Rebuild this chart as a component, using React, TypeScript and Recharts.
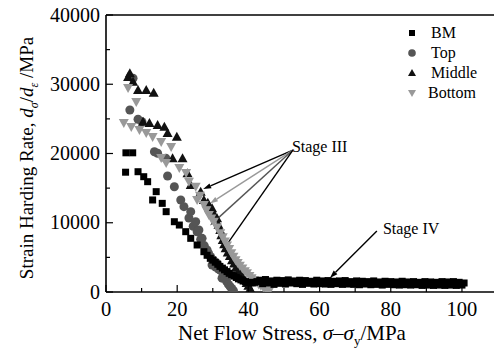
import React from 'react';
import { ScatterChart, Scatter, XAxis, YAxis, ReferenceLine, ReferenceDot, Legend } from 'recharts';

// values (x: net flow stress, MPa; y: strain hardening rate, MPa)
const bmPoints = [
  { x: 5.5, y: 17300 }, { x: 5.6, y: 20100 }, { x: 7.5, y: 20100 }, { x: 9.0, y: 17370 },
  { x: 10.6, y: 16650 }, { x: 11.7, y: 15930 }, { x: 13.1, y: 13290 }, { x: 14.1, y: 14490 },
  { x: 15.8, y: 12800 }, { x: 16.9, y: 11600 }, { x: 19.2, y: 10150 }, { x: 20.6, y: 9670 },
  { x: 22.4, y: 8710 }, { x: 23.8, y: 7750 }, { x: 25.6, y: 6790 }, { x: 27.5, y: 5820 },
  { x: 28.4, y: 5300 }, { x: 29.3, y: 4860 }, { x: 30.0, y: 4600 }, { x: 30.7, y: 4300 },
  { x: 31.4, y: 4000 }, { x: 32.0, y: 3700 }, { x: 32.7, y: 3450 }, { x: 33.3, y: 3200 },
  { x: 34.0, y: 2950 }, { x: 34.6, y: 2700 }, { x: 35.3, y: 2500 }, { x: 35.9, y: 2300 },
  { x: 36.6, y: 2100 }, { x: 37.2, y: 1900 }, { x: 37.9, y: 1750 }, { x: 38.5, y: 1600 },
  { x: 39.2, y: 1500 }, { x: 39.8, y: 1400 }, { x: 40.5, y: 1350 }, { x: 41.1, y: 1300 },
  { x: 41.8, y: 1400 }, { x: 42.4, y: 1500 },
  { x: 43.2, y: 1700 }, { x: 44.0, y: 1200 }, { x: 44.8, y: 1800 }, { x: 45.6, y: 1300 },
  { x: 46.4, y: 1600 }, { x: 47.2, y: 1100 }, { x: 48.0, y: 1700 }, { x: 48.8, y: 1250 },
  { x: 49.6, y: 1650 }, { x: 50.4, y: 1150 }, { x: 51.2, y: 1750 }, { x: 52.0, y: 1300 },
  { x: 52.8, y: 1600 }, { x: 53.6, y: 1200 }, { x: 54.4, y: 1700 }, { x: 55.2, y: 1100 },
  { x: 56.0, y: 1650 }, { x: 56.8, y: 1250 }, { x: 57.6, y: 1550 }, { x: 58.4, y: 1150 },
  { x: 59.2, y: 1700 }, { x: 60.0, y: 1200 }, { x: 60.8, y: 1600 }, { x: 61.6, y: 1150 },
  { x: 62.4, y: 1650 }, { x: 63.2, y: 1100 }, { x: 64.0, y: 1550 }, { x: 64.8, y: 1200 },
  { x: 65.6, y: 1600 }, { x: 66.4, y: 1100 }, { x: 67.2, y: 1650 }, { x: 68.0, y: 1150 },
  { x: 68.8, y: 1500 }, { x: 69.6, y: 1100 }, { x: 70.4, y: 1600 }, { x: 71.2, y: 1050 },
  { x: 72.0, y: 1550 }, { x: 72.8, y: 1150 }, { x: 73.6, y: 1500 }, { x: 74.4, y: 1050 },
  { x: 75.2, y: 1600 }, { x: 76.0, y: 1100 }, { x: 76.8, y: 1450 }, { x: 77.6, y: 1000 },
  { x: 78.4, y: 1550 }, { x: 79.2, y: 1100 }, { x: 80.0, y: 1500 }, { x: 80.8, y: 1050 },
  { x: 81.6, y: 1450 }, { x: 82.4, y: 1000 }, { x: 83.2, y: 1550 }, { x: 84.0, y: 1050 },
  { x: 84.8, y: 1450 }, { x: 85.6, y: 1000 }, { x: 86.4, y: 1500 }, { x: 87.2, y: 1050 },
  { x: 88.0, y: 1400 }, { x: 88.8, y: 950 }, { x: 89.6, y: 1500 }, { x: 90.4, y: 1000 },
  { x: 91.2, y: 1450 }, { x: 92.0, y: 950 }, { x: 92.8, y: 1400 }, { x: 93.6, y: 1000 },
  { x: 94.4, y: 1500 }, { x: 95.2, y: 950 }, { x: 96.0, y: 1450 }, { x: 96.8, y: 1000 },
  { x: 97.6, y: 1500 }, { x: 98.4, y: 950 }, { x: 99.2, y: 1400 }, { x: 100.0, y: 1000 },
  { x: 100.6, y: 1300 },
];

const topPoints = [
  { x: 6.7, y: 26280 }, { x: 7.6, y: 30860 }, { x: 9.0, y: 24940 }, { x: 10.1, y: 24600 },
  { x: 13.6, y: 20260 }, { x: 14.5, y: 20030 }, { x: 16.8, y: 19310 }, { x: 17.3, y: 16750 },
  { x: 19.2, y: 15200 }, { x: 21.0, y: 13290 }, { x: 21.9, y: 12320 }, { x: 23.3, y: 10690 },
  { x: 23.8, y: 11600 }, { x: 24.5, y: 9500 }, { x: 25.2, y: 10150 }, { x: 25.6, y: 8700 },
  { x: 26.1, y: 8950 }, { x: 26.6, y: 7600 }, { x: 27.0, y: 7750 }, { x: 27.6, y: 6700 },
  { x: 28.4, y: 6070 }, { x: 28.8, y: 5600 }, { x: 29.4, y: 5100 }, { x: 29.8, y: 3900 },
  { x: 30.2, y: 4600 }, { x: 30.8, y: 3600 }, { x: 31.2, y: 4140 }, { x: 31.6, y: 3300 },
  { x: 32.1, y: 3180 }, { x: 32.6, y: 2000 }, { x: 32.9, y: 2500 }, { x: 33.5, y: 1980 },
  { x: 33.9, y: 1500 }, { x: 34.4, y: 1100 }, { x: 34.9, y: 770 }, { x: 35.3, y: 500 },
  { x: 35.8, y: 200 },
];

const middlePoints = [
  { x: 6.2, y: 31050 }, { x: 6.7, y: 31600 }, { x: 7.6, y: 30370 }, { x: 9.0, y: 29170 },
  { x: 11.3, y: 29170 }, { x: 13.4, y: 28780 }, { x: 10.4, y: 24600 }, { x: 12.2, y: 24400 },
  { x: 14.5, y: 24110 }, { x: 16.4, y: 23870 }, { x: 17.3, y: 22960 }, { x: 19.9, y: 22430 },
  { x: 18.7, y: 19310 }, { x: 21.5, y: 19310 }, { x: 22.9, y: 17140 }, { x: 23.8, y: 15450 },
  { x: 26.6, y: 14480 }, { x: 27.5, y: 13290 }, { x: 28.6, y: 12900 }, { x: 29.8, y: 12080 },
  { x: 30.3, y: 11300 }, { x: 31.2, y: 10640 }, { x: 31.6, y: 9700 }, { x: 32.1, y: 8950 },
  { x: 32.4, y: 8200 }, { x: 32.8, y: 7500 }, { x: 33.2, y: 6900 }, { x: 33.6, y: 6300 },
  { x: 34.2, y: 5700 }, { x: 34.8, y: 5200 }, { x: 35.4, y: 4600 }, { x: 36.0, y: 4100 },
  { x: 36.6, y: 3600 }, { x: 37.2, y: 3100 }, { x: 37.8, y: 2600 }, { x: 38.4, y: 2200 },
  { x: 39.0, y: 1700 }, { x: 39.5, y: 1300 }, { x: 40.0, y: 900 }, { x: 40.5, y: 500 },
];

const bottomPoints = [
  { x: 6.2, y: 29450 }, { x: 8.5, y: 27440 }, { x: 5.0, y: 24400 }, { x: 7.1, y: 23830 },
  { x: 9.4, y: 23390 }, { x: 11.3, y: 22960 }, { x: 13.1, y: 22380 }, { x: 15.5, y: 21660 },
  { x: 18.3, y: 20940 }, { x: 15.5, y: 19350 }, { x: 16.9, y: 18630 }, { x: 20.6, y: 17900 },
  { x: 22.5, y: 17180 }, { x: 23.3, y: 15930 }, { x: 25.2, y: 15200 }, { x: 25.6, y: 13290 },
  { x: 26.4, y: 13900 }, { x: 27.5, y: 12560 }, { x: 28.2, y: 11800 }, { x: 28.9, y: 11120 },
  { x: 29.6, y: 10600 }, { x: 30.3, y: 10150 }, { x: 31.2, y: 9300 }, { x: 32.1, y: 8470 },
  { x: 32.8, y: 7900 }, { x: 33.4, y: 7300 }, { x: 34.0, y: 6700 }, { x: 34.6, y: 6200 },
  { x: 35.2, y: 5600 }, { x: 35.8, y: 5100 }, { x: 36.4, y: 4600 }, { x: 37.0, y: 4200 },
  { x: 37.6, y: 3800 }, { x: 38.3, y: 3400 }, { x: 39.0, y: 3000 }, { x: 39.6, y: 2700 },
  { x: 40.3, y: 2300 }, { x: 40.9, y: 2000 }, { x: 41.6, y: 1700 }, { x: 42.2, y: 1400 },
  { x: 42.9, y: 1100 }, { x: 43.5, y: 900 }, { x: 44.2, y: 650 }, { x: 44.8, y: 450 },
  { x: 45.3, y: 250 }, { x: 45.8, y: 100 },
];

const xTicks = [0, 10, 20, 30, 40, 50, 60, 70, 80, 90, 100];
const yTicks = [0, 5000, 10000, 15000, 20000, 25000, 30000, 35000, 40000];
const xLabeled = [0, 20, 40, 60, 80, 100];
const yLabeled = [0, 10000, 20000, 30000, 40000];

const stage3From = { x: 52.5, y: 20500 };
const stage3Targets = [
  { x: 27.3, y: 14870, color: '#000' },
  { x: 29.2, y: 12780, color: '#999' },
  { x: 29.2, y: 9600, color: '#555' },
  { x: 32.7, y: 5920, color: '#000' },
];
const stage4From = { x: 76.1, y: 8810 };
const stage4To = { x: 62.9, y: 2020 };

const FONT = '"Liberation Serif", "Times New Roman", serif';

const Square = ({ cx, cy }: any) => <rect x={cx - 3.5} y={cy - 3.5} width={7} height={7} fill="#000" />;
const Dot = ({ cx, cy }: any) => <circle cx={cx} cy={cy} r={4.5} fill="#555" />;
const Tri = ({ cx, cy }: any) => (
  <polygon points={`${cx},${cy - 5} ${cx - 5},${cy + 4} ${cx + 5},${cy + 4}`} fill="#111" />
);
const InvTri = ({ cx, cy }: any) => (
  <polygon points={`${cx},${cy + 5} ${cx - 5},${cy - 4} ${cx + 5},${cy - 4}`} fill="#999" />
);

const XTick = ({ x, y, payload }: any) => {
  const major = xLabeled.includes(payload.value);
  return (
    <g>
      <line x1={x} x2={x} y1={y} y2={y - (major ? 7 : 4)} stroke="#000" strokeWidth={1.2} />
      {major && (
        <text x={x} y={y + 24} textAnchor="middle" fontFamily={FONT} fontSize={20.5} fill="#000">
          {payload.value}
        </text>
      )}
    </g>
  );
};

const YTick = ({ x, y, payload }: any) => {
  const major = yLabeled.includes(payload.value);
  return (
    <g>
      <line x1={x} x2={x + (major ? 7 : 4)} y1={y} y2={y} stroke="#000" strokeWidth={1.2} />
      {major && (
        <text x={x - 6} y={y + 6.5} textAnchor="end" fontFamily={FONT} fontSize={20} fill="#000">
          {payload.value}
        </text>
      )}
    </g>
  );
};

const XLabel = () => (
  <text x={292} y={340} textAnchor="middle" fontFamily={FONT} fontSize={21} fill="#000">
    {'Net Flow Stress, '}
    <tspan fontStyle="italic">σ</tspan>
    {'–'}
    <tspan fontStyle="italic">σ</tspan>
    <tspan fontSize={13} dy={5}>y</tspan>
    <tspan dy={-5}>/MPa</tspan>
  </text>
);

const YLabel = () => (
  <text
    x={33}
    y={158}
    transform="rotate(-90 33 158)"
    textAnchor="middle"
    fontFamily={FONT}
    fontSize={19}
    fill="#000"
  >
    {'Strain Harding Rate, '}
    <tspan fontStyle="italic">d</tspan>
    <tspan fontStyle="italic" fontSize={12} dy={5}>σ</tspan>
    <tspan dy={-5}>/</tspan>
    <tspan fontStyle="italic">d</tspan>
    <tspan fontStyle="italic" fontSize={12} dy={5}>ε</tspan>
    <tspan dy={-5}> /MPa</tspan>
  </text>
);

const Arrow = (props: any) => {
  const { x1, y1, x2, y2, stroke } = props;
  const a = Math.atan2(y2 - y1, x2 - x1);
  const L = 8;
  const W = 2.6;
  const bx = x2 - L * Math.cos(a);
  const by = y2 - L * Math.sin(a);
  const pts = `${x2},${y2} ${bx - W * Math.sin(a)},${by + W * Math.cos(a)} ${bx + W * Math.sin(a)},${by - W * Math.cos(a)}`;
  return (
    <g>
      <line x1={x1} y1={y1} x2={bx} y2={by} stroke={stroke} strokeWidth={1.4} />
      <polygon points={pts} fill={stroke} />
    </g>
  );
};

const legendItems = [
  { name: 'BM', icon: <rect x={5} y={7} width={6} height={6} fill="#000" />, shift: 0 },
  { name: 'Top', icon: <circle cx={8} cy={10} r={3.8} fill="#555" />, shift: 0 },
  { name: 'Middle', icon: <polygon points="8,6 4,13 12,13" fill="#111" />, shift: 0 },
  { name: 'Bottom', icon: <polygon points="8,14 4,7 12,7" fill="#999" />, shift: -3 },
];

const LegendBox = () => (
  <div style={{ fontFamily: FONT, fontSize: 16, color: '#000' }}>
    {legendItems.map((it) => (
      <div key={it.name} style={{ display: 'flex', alignItems: 'center', height: 20 }}>
        <svg width={27 + it.shift} height={20} style={{ overflow: 'visible' }}>
          {it.icon}
        </svg>
        <span style={{ lineHeight: '20px' }}>{it.name}</span>
      </div>
    ))}
  </div>
);

const App = () => (
  <div style={{ position: 'absolute', left: 0, top: 0, width: 494, height: 349, background: '#fff' }}>
    <ScatterChart width={494} height={349} margin={{ top: 15, right: 0, bottom: 0, left: 0 }}>
      <XAxis
        type="number"
        dataKey="x"
        domain={[0, 109]}
        ticks={xTicks}
        interval={0}
        allowDataOverflow
        height={57}
        tickSize={0}
        tickMargin={0}
        tickLine={false}
        tick={<XTick />}
        axisLine={{ stroke: '#000', strokeWidth: 1.6 }}
        label={{ content: () => <XLabel /> }}
      />
      <YAxis
        type="number"
        dataKey="y"
        domain={[0, 40000]}
        ticks={yTicks}
        interval={0}
        allowDataOverflow
        width={106}
        tickSize={0}
        tickMargin={0}
        tickLine={false}
        tick={<YTick />}
        axisLine={{ stroke: '#000', strokeWidth: 1.6 }}
        label={{ content: () => <YLabel /> }}
      />
      <ReferenceLine y={40000} stroke="#000" strokeWidth={1.6} />
      <Legend
        layout="vertical"
        align="center"
        verticalAlign="middle"
        content={() => <LegendBox />}
        wrapperStyle={{ position: 'absolute', left: 404, top: 23, width: 90, height: 80 }}
      />
      <Scatter name="Top" data={topPoints} shape={<Dot />} isAnimationActive={false} />
      <Scatter name="Middle" data={middlePoints} shape={<Tri />} isAnimationActive={false} />
      <Scatter name="Bottom" data={bottomPoints} shape={<InvTri />} isAnimationActive={false} />
      <Scatter name="BM" data={bmPoints} shape={<Square />} isAnimationActive={false} />
      {stage3Targets.map((t, i) => (
        <ReferenceLine
          key={i}
          segment={[stage3From, { x: t.x, y: t.y }]}
          stroke={t.color}
          shape={(p: any) => <Arrow {...p} stroke={t.color} />}
        />
      ))}
      <ReferenceLine
        segment={[stage4From, stage4To]}
        stroke="#000"
        shape={(p: any) => <Arrow {...p} stroke="#000" />}
      />
      <ReferenceDot
        x={stage3From.x}
        y={stage3From.y}
        r={0}
        shape={(p: any) => (
          <text x={p.cx - 1} y={p.cy + 2} fontFamily={FONT} fontSize={16} fill="#000">
            Stage III
          </text>
        )}
      />
      <ReferenceDot
        x={stage4From.x}
        y={stage4From.y}
        r={0}
        shape={(p: any) => (
          <text x={p.cx + 6} y={p.cy + 3} fontFamily={FONT} fontSize={16} fill="#000">
            Stage IV
          </text>
        )}
      />
    </ScatterChart>
  </div>
);

export default App;
